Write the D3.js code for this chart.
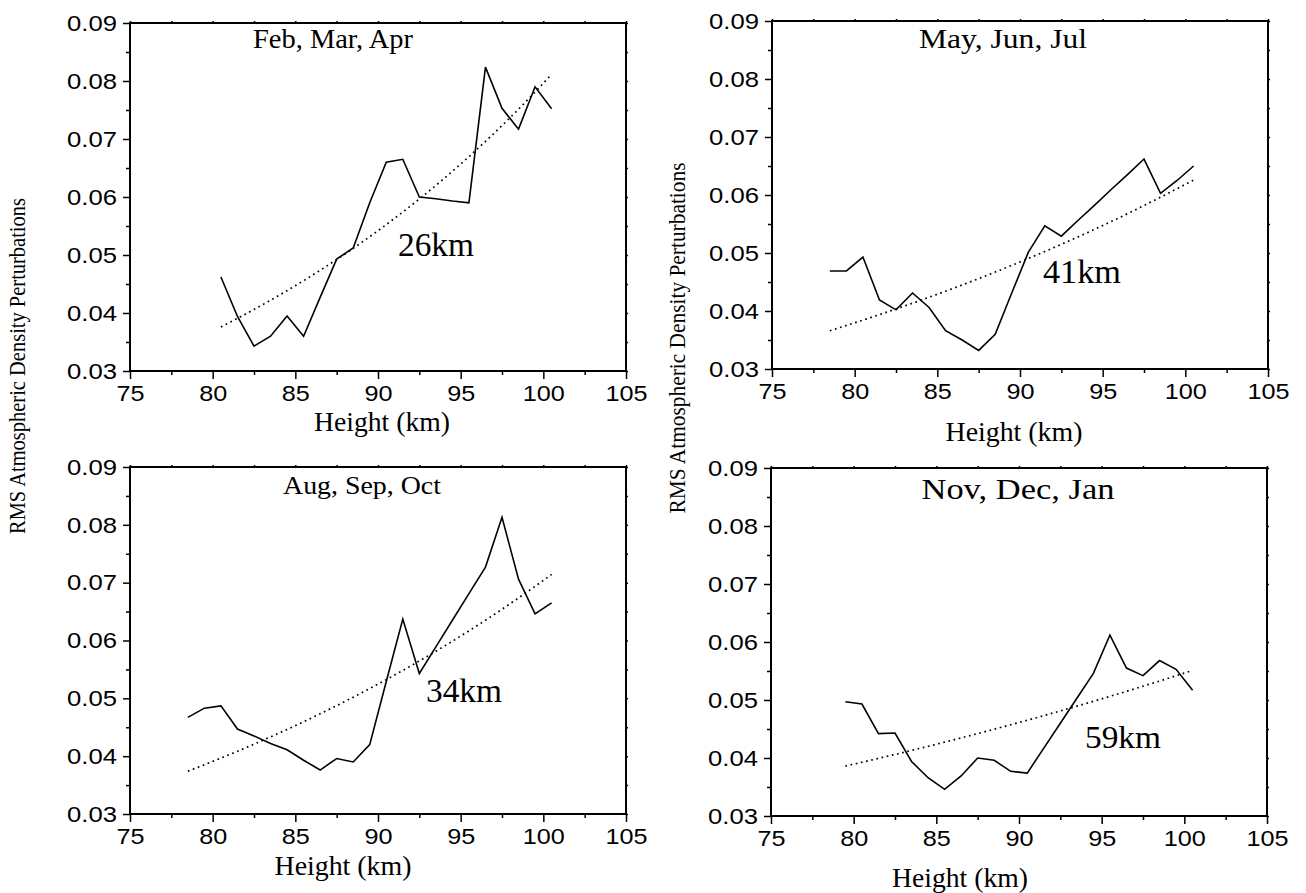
<!DOCTYPE html>
<html>
<head>
<meta charset="utf-8">
<script src="https://cdn.jsdelivr.net/npm/d3@7/dist/d3.min.js"></script>
<style>
  html, body { margin: 0; padding: 0; background: #fff; }
  svg { display: block; }
</style>
</head>
<body>
<svg id="chart" width="1306" height="893"></svg>
<script>
// Heights (km) of each seasonal profile
const heightsFMA = [80.5, 81.5, 82.5, 83.5, 84.5, 85.5, 86.5, 87.5, 88.5, 89.5, 90.5,
                    91.5, 92.5, 93.5, 94.5, 95.5, 96.5, 97.5, 98.5, 99.5, 100.5];
const heightsMJJ = [78.5, 79.5, 80.5, 81.5, 82.5, 83.5, 84.5, 85.5, 86.5, 87.5, 88.5, 89.5,
                    90.5, 91.5, 92.5, 93.5, 94.5, 95.5, 96.5, 97.5, 98.5, 99.5, 100.5];
const heightsASO = [78.5, 79.5, 80.5, 81.5, 82.5, 83.5, 84.5, 85.5, 86.5, 87.5, 88.5, 89.5,
                    90.5, 91.5, 92.5, 93.5, 94.5, 95.5, 96.5, 97.5, 98.5, 99.5, 100.5];
const heightsNDJ = [79.5, 80.5, 81.5, 82.5, 83.5, 84.5, 85.5, 86.5, 87.5, 88.5, 89.5,
                    90.5, 91.5, 92.5, 93.5, 94.5, 95.5, 96.5, 97.5, 98.5, 99.5, 100.5];

// RMS relative density perturbation at each height
const rmsFMA = [0.0462, 0.0394, 0.0343, 0.0360, 0.0395, 0.0360, 0.0427, 0.0493, 0.0512, 0.0590, 0.0660,
                0.0665, 0.0600, 0.0597, 0.0593, 0.0590, 0.0824, 0.0753, 0.0717, 0.0790, 0.0752];
const rmsMJJ = [0.0469, 0.0469, 0.0493, 0.0419, 0.0402, 0.0431, 0.0406, 0.0366, 0.0350, 0.0332, 0.0360, 0.0431,
                0.0501, 0.0547, 0.0529, 0.0556, 0.0582, 0.0609, 0.0635, 0.0662, 0.0603, 0.0625, 0.0650];
const rmsASO = [0.0467, 0.0483, 0.0487, 0.0447, 0.0435, 0.0422, 0.0411, 0.0393, 0.0376, 0.0396, 0.0390, 0.0420,
                0.0529, 0.0637, 0.0543, 0.0589, 0.0635, 0.0681, 0.0727, 0.0813, 0.0706, 0.0646, 0.0665];
const rmsNDJ = [0.0497, 0.0493, 0.0442, 0.0443, 0.0394, 0.0366, 0.0346, 0.0369, 0.0400, 0.0396, 0.0377,
                0.0374, 0.0417, 0.0460, 0.0503, 0.0546, 0.0612, 0.0555, 0.0542, 0.0568, 0.0553, 0.0517];

// Exponential growth fits: value at the lowest height and the growth scale height (km)
const seasonLabels = ["Feb, Mar, Apr", "May, Jun, Jul", "Aug, Sep, Oct", "Nov, Dec, Jan"];
const fitBase = [0.0376, 0.0366, 0.0374, 0.0386];
const scaleHeights = [26, 41, 34, 59];

// Axis ticks
const xTicks = [75, 80, 85, 90, 95, 100, 105];
const xMinorTicks = [77.5, 82.5, 87.5, 92.5, 97.5, 102.5];
const yTicks = [0.03, 0.04, 0.05, 0.06, 0.07, 0.08, 0.09];
const yMinorTicks = [0.035, 0.045, 0.055, 0.065, 0.075, 0.085];

const heightSets = [heightsFMA, heightsMJJ, heightsASO, heightsNDJ];
const rmsSets = [rmsFMA, rmsMJJ, rmsASO, rmsNDJ];

// Panel frames and text placement
const layout = [
  { l: 130, r: 626, t: 23, b: 371,
    title: { cx: 333, y: 48, size: 26.5, len: 160 },
    km: { x: 398, y: 256, size: 33, len: 76 },
    xl: { cx: 382, y: 431, size: 27, len: 136 } },
  { l: 772, r: 1268, t: 21, b: 369,
    title: { cx: 1003, y: 47.5, size: 28, len: 168 },
    km: { x: 1043, y: 282.5, size: 33, len: 78 },
    xl: { cx: 1014, y: 441, size: 27, len: 137 } },
  { l: 130, r: 626, t: 467, b: 814,
    title: { cx: 362, y: 494, size: 26, len: 158 },
    km: { x: 426, y: 701.5, size: 33, len: 76 },
    xl: { cx: 343, y: 875, size: 27, len: 137 } },
  { l: 771, r: 1267, t: 468, b: 816,
    title: { cx: 1018, y: 499, size: 29, len: 193 },
    km: { x: 1085, y: 747.5, size: 32, len: 76 },
    xl: { cx: 960, y: 887, size: 27, len: 136 } }
];

const SERIF = "'Liberation Serif', 'Times New Roman', Times, serif";
const SANS = "'Liberation Sans', Arial, Helvetica, sans-serif";

const svg = d3.select("#chart");

function stretchText(sel, factor) {
  sel.each(function () {
    const w = this.getComputedTextLength();
    d3.select(this).attr("textLength", w * factor).attr("lengthAdjust", "spacingAndGlyphs");
  });
}

layout.forEach((L, i) => {
  const heights = heightSets[i];
  const rms = rmsSets[i];

  const x = d3.scaleLinear().domain([75, 105]).range([L.l, L.r]);
  const y = d3.scaleLinear().domain([0.03, 0.09]).range([L.b, L.t]);

  const g = svg.append("g");

  // Minor ticks
  g.append("g").attr("transform", `translate(${L.l},0)`)
    .call(d3.axisLeft(y).tickValues(yMinorTicks).tickSize(4).tickFormat(""));
  g.append("g").attr("transform", `translate(0,${L.b})`)
    .call(d3.axisBottom(x).tickValues(xMinorTicks).tickSize(4).tickFormat(""));

  // Major ticks with labels
  const yAxis = g.append("g").attr("transform", `translate(${L.l},0)`)
    .call(d3.axisLeft(y).tickValues(yTicks).tickSize(7).tickPadding(6).tickFormat(d3.format(".2f")));
  const xAxis = g.append("g").attr("transform", `translate(0,${L.b})`)
    .call(d3.axisBottom(x).tickValues(xTicks).tickSize(8).tickPadding(6).tickFormat(d3.format("d")));

  // Small ticks on the top and right frame edges
  g.append("g").attr("transform", `translate(0,${L.t})`)
    .call(d3.axisTop(x).tickValues(xTicks.concat(xMinorTicks)).tickSize(2).tickFormat(""));
  g.append("g").attr("transform", `translate(${L.r},0)`)
    .call(d3.axisRight(y).tickValues(yTicks.concat(yMinorTicks)).tickSize(2).tickFormat(""));

  g.selectAll(".domain").remove();
  g.selectAll(".tick line").attr("stroke", "#000").attr("stroke-width", 1.5);

  [yAxis, xAxis].forEach(ax => {
    ax.selectAll("text")
      .attr("fill", "#000")
      .style("font-family", SANS)
      .style("font-size", "22.5px");
  });
  stretchText(yAxis.selectAll("text"), 1.14);
  stretchText(xAxis.selectAll("text"), 1.12);

  // Frame
  g.append("rect")
    .attr("x", L.l).attr("y", L.t)
    .attr("width", L.r - L.l).attr("height", L.b - L.t)
    .attr("fill", "none").attr("stroke", "#000").attr("stroke-width", 2);

  // Exponential fit, dotted
  const z0 = heights[0];
  const fit = heights.map(z => ({ z, v: fitBase[i] * Math.exp((z - z0) / scaleHeights[i]) }));
  g.append("path")
    .datum(fit)
    .attr("fill", "none")
    .attr("stroke", "#000")
    .attr("stroke-width", 1.7)
    .attr("stroke-dasharray", "1.7 3.6")
    .attr("d", d3.line().x(d => x(d.z)).y(d => y(d.v)));

  // Measured profile
  g.append("path")
    .datum(heights.map((z, k) => ({ z, v: rms[k] })))
    .attr("fill", "none")
    .attr("stroke", "#000")
    .attr("stroke-width", 1.6)
    .attr("stroke-linejoin", "miter")
    .attr("d", d3.line().x(d => x(d.z)).y(d => y(d.v)));

  // Season title
  g.append("text")
    .attr("x", L.title.cx).attr("y", L.title.y)
    .attr("text-anchor", "middle")
    .attr("textLength", L.title.len).attr("lengthAdjust", "spacingAndGlyphs")
    .style("font-family", SERIF).style("font-size", L.title.size + "px")
    .text(seasonLabels[i]);

  // Scale height label
  g.append("text")
    .attr("x", L.km.x).attr("y", L.km.y)
    .attr("textLength", L.km.len).attr("lengthAdjust", "spacingAndGlyphs")
    .style("font-family", SERIF).style("font-size", L.km.size + "px")
    .text(scaleHeights[i] + "km");

  // X axis title
  g.append("text")
    .attr("x", L.xl.cx).attr("y", L.xl.y)
    .attr("text-anchor", "middle")
    .attr("textLength", L.xl.len).attr("lengthAdjust", "spacingAndGlyphs")
    .style("font-family", SERIF).style("font-size", L.xl.size + "px")
    .text("Height (km)");
});

// Shared Y axis titles for each column
const yTitle = "RMS Atmospheric Density Perturbations";
[{ x: 25, cy: 366, len: 336, size: 23 }, { x: 685, cy: 338, len: 351, size: 23 }].forEach(p => {
  svg.append("text")
    .attr("transform", `translate(${p.x},${p.cy}) rotate(-90)`)
    .attr("text-anchor", "middle")
    .attr("textLength", p.len).attr("lengthAdjust", "spacingAndGlyphs")
    .style("font-family", SERIF).style("font-size", p.size + "px")
    .text(yTitle);
});
</script>
</body>
</html>
